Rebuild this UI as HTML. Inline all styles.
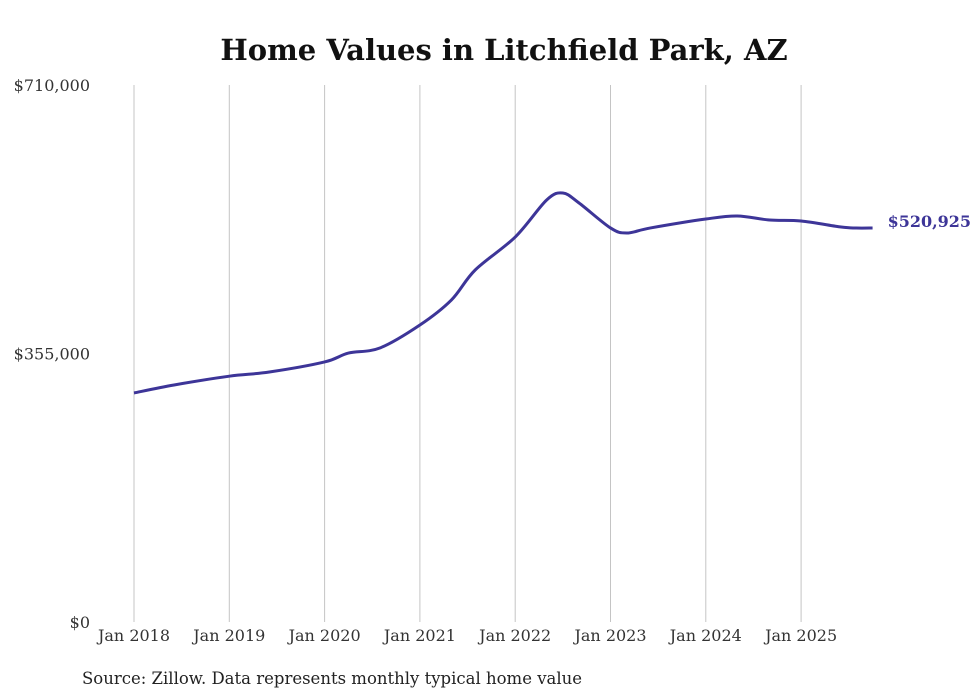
<!DOCTYPE html>
<html><head><meta charset="utf-8"><style>
body{margin:0;background:#fff;}
svg{display:block;font-family:"DejaVu Serif","Liberation Serif",serif;}
</style></head><body>
<svg id="chart" width="980" height="699">
<text x="504" y="60" text-anchor="middle" font-size="29" font-weight="bold" fill="#111">Home Values in Litchfield Park, AZ</text>
<g id="grid"></g><g id="yt"></g><g id="xt"></g><g id="series"></g>
<text x="82" y="684" font-size="16.5" fill="#222">Source: Zillow. Data represents monthly typical home value</text>
</svg>
<script>
const dates=[2018.0,2018.42,2019.0,2019.42,2020.0,2020.25,2020.58,2021.0,2021.33,2021.58,2022.0,2022.33,2022.5,2022.67,2023.0,2023.17,2023.42,2024.0,2024.33,2024.67,2025.0,2025.42,2025.58,2025.75];
const values=[302800,313400,325000,330500,343800,355600,362300,392700,425700,465400,509000,558000,567200,554000,521000,514300,521000,532800,536800,531500,530200,522200,520900,520925];
const yTicks=[0,355000,710000];
const yTickLabels=["$0","$355,000","$710,000"];
const xTicks=[2018,2019,2020,2021,2022,2023,2024,2025];
const xTickLabels=["Jan 2018","Jan 2019","Jan 2020","Jan 2021","Jan 2022","Jan 2023","Jan 2024","Jan 2025"];
const lastLabel="$520,925";
const ns="http://www.w3.org/2000/svg";
const xS=d=>134+(d-2018)*95.3;
const yS=v=>622-v/710000*537;
function mk(t,a,p){const e=document.createElementNS(ns,t);for(const k in a)e.setAttribute(k,a[k]);p.appendChild(e);return e;}
const grid=document.getElementById('grid'),yt=document.getElementById('yt'),xt=document.getElementById('xt'),ser=document.getElementById('series');
xTicks.forEach((d,i)=>{
 const l=mk('line',{x1:xS(d),x2:xS(d),y1:85,y2:622,stroke:'#c4c4c4','stroke-width':1},grid);
 
 
 const t=mk('text',{x:xS(d),y:641,'text-anchor':'middle','font-size':16,fill:'#333'},xt);
 t.textContent=xTickLabels[i];
 
 
});
yTicks.forEach((v,i)=>{
 const t=mk('text',{x:90,y:yS(v)+6,'text-anchor':'end','font-size':16,fill:'#333'},yt);
 t.textContent=yTickLabels[i];
 
 
});
const pts=dates.map((d,i)=>[xS(d),yS(values[i])]);
let p='M'+pts[0][0]+','+pts[0][1];
for(let i=0;i<pts.length-1;i++){
 const p0=pts[Math.max(i-1,0)],p1=pts[i],p2=pts[i+1],p3=pts[Math.min(i+2,pts.length-1)];
 const c1=[p1[0]+(p2[0]-p0[0])/6,p1[1]+(p2[1]-p0[1])/6],c2=[p2[0]-(p3[0]-p1[0])/6,p2[1]-(p3[1]-p1[1])/6];
 p+=`C${c1[0]},${c1[1]} ${c2[0]},${c2[1]} ${p2[0]},${p2[1]}`;
}
const path=mk('path',{d:p,fill:'none',stroke:'#3d3598','stroke-width':3,'stroke-linejoin':'round'},ser);


const last=pts[pts.length-1];
const lt=mk('text',{x:last[0]+15,y:last[1]-1,'font-size':16,'font-weight':'bold',fill:'#3d3598'},ser);
lt.textContent=lastLabel;


</script>
</body></html>
